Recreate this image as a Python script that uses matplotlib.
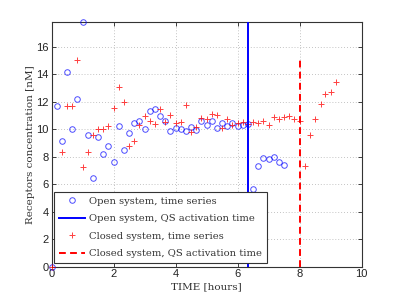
import matplotlib
matplotlib.use("Agg")
import matplotlib.pyplot as plt
from matplotlib.lines import Line2D

# ---- data ----
open_t = [0, 0.17, 0.33, 0.5, 0.67, 0.83, 1.0, 1.17, 1.33, 1.5, 1.67, 1.83, 2.0,
          2.17, 2.33, 2.5, 2.67, 2.83, 3.0, 3.17, 3.33, 3.5, 3.67, 3.83, 4.0,
          4.17, 4.33, 4.5, 4.67, 4.83, 5.0, 5.17, 5.33, 5.5, 5.67, 5.83, 6.0,
          6.17, 6.33, 6.5, 6.67, 6.83, 7.0, 7.17, 7.33, 7.5]
open_v = [0, 11.7, 9.17, 14.18, 10.0, 12.22, 17.77, 9.58, 6.48, 9.46, 8.17, 8.8, 7.61,
          10.26, 8.46, 9.7, 10.45, 10.56, 9.98, 11.3, 11.47, 10.94, 10.58, 9.83, 10.12,
          9.98, 9.83, 10.15, 9.95, 10.57, 10.27, 10.57, 10.12, 10.43, 10.2, 10.43, 10.25,
          10.33, 10.38, 5.67, 7.35, 7.93, 7.86, 8.0, 7.59, 7.37]

closed_t = [0, 0.33, 0.5, 0.67, 0.83, 1.0, 1.17, 1.33, 1.5, 1.67, 1.83, 2.0, 2.17,
            2.33, 2.5, 2.67, 2.83, 3.0, 3.17, 3.33, 3.5, 3.67, 3.83, 4.0, 4.17,
            4.33, 4.5, 4.67, 4.83, 5.0, 5.17, 5.33, 5.5, 5.67, 5.83, 6.0, 6.17,
            6.33, 6.5, 6.67, 6.83, 7.0, 7.17, 7.33, 7.5, 7.67, 7.83, 8.0, 8.17,
            8.33, 8.5, 8.67, 8.83, 9.0, 9.17]
closed_v = [0, 8.32, 11.7, 11.7, 15.0, 7.23, 8.33, 9.58, 10.0, 10.0, 10.21, 11.52, 13.05,
            11.95, 8.78, 9.17, 10.3, 10.96, 10.62, 10.35, 11.45, 10.55, 11.01, 10.43, 10.55,
            11.74, 9.82, 10.18, 10.8, 10.72, 11.08, 11.01, 10.11, 10.74, 10.3, 10.45, 10.55,
            10.4, 10.52, 10.45, 10.6, 10.33, 10.86, 10.77, 10.89, 10.96, 10.74, 10.6, 7.35,
            9.55, 10.72, 11.85, 12.54, 12.73, 13.41]

open_activation = 6.33
closed_activation = 8.0

legend_labels = ["Open system, time series",
                 "Open system, QS activation time",
                 "Closed system, time series",
                 "Closed system, QS activation time"]
x_ticks = [0, 2, 4, 6, 8, 10]
y_ticks = [0, 2, 4, 6, 8, 10, 12, 14, 16]

# ---- figure ----
fig = plt.figure(figsize=(3.99, 3.0), dpi=100)
ax = fig.add_axes([0.1296, 0.111, 0.777, 0.8147])

blue = "#0000ff"
red = "#ff0000"

ax.plot(open_t, open_v, linestyle="none", marker="o", markersize=4,
        markerfacecolor="none", markeredgecolor=blue, markeredgewidth=0.7,
        alpha=0.7, clip_on=False, zorder=3)
ax.plot([open_activation, open_activation], [0, max(open_v)], color=blue,
        linewidth=1.4, zorder=4)
ax.plot(closed_t, closed_v, linestyle="none", marker="+", markersize=5,
        markeredgecolor=red, markeredgewidth=0.7, alpha=0.75, clip_on=False, zorder=3)
ax.plot([closed_activation, closed_activation], [0, max(closed_v)], color=red,
        linewidth=1.4, linestyle=(0, (3.5, 2.2)), zorder=4)

ax.set_xlim(0, 10)
ax.set_ylim(0, max(open_v))
ax.set_xticks(x_ticks)
ax.set_yticks(y_ticks)
ax.tick_params(direction="in", top=True, right=True, length=3, width=0.6,
               labelsize=8, pad=2, colors="#222222")
for lab in ax.get_xticklabels() + ax.get_yticklabels():
    lab.set_family("Liberation Sans")
ax.grid(True, linestyle=(0, (1, 2.5)), color="#b0b0b0", linewidth=0.6)
for s in ax.spines.values():
    s.set_color("#333333")
    s.set_linewidth(0.8)

serif = "DejaVu Serif"
ax.set_xlabel("TIME [hours]", family=serif, fontsize=7.5, labelpad=2, color="#333333")
ax.set_ylabel("Receptors concentration [nM]", family=serif, fontsize=7.5, labelpad=1,
              color="#333333")

handles = [
    Line2D([], [], linestyle="none", marker="o", markersize=4, markerfacecolor="none",
           markeredgecolor=blue, markeredgewidth=0.7, alpha=0.7),
    Line2D([], [], color=blue, linewidth=1.4),
    Line2D([], [], linestyle="none", marker="+", markersize=5, markeredgecolor=red,
           markeredgewidth=0.7, alpha=0.75),
    Line2D([], [], color=red, linewidth=1.4, linestyle=(0, (3.5, 2.2))),
]
leg = ax.legend(handles, legend_labels, loc="lower left", bbox_to_anchor=(0.008, 0.014),
                borderaxespad=0, prop={"family": serif, "size": 7.2}, frameon=True,
                fancybox=False, framealpha=1, edgecolor="#333333", handlelength=2.6,
                handletextpad=0.4, labelspacing=0.85, borderpad=0.5)
leg.get_frame().set_linewidth(0.8)
for t in leg.get_texts():
    t.set_color("#333333")

fig.savefig("out.png", dpi=100)
